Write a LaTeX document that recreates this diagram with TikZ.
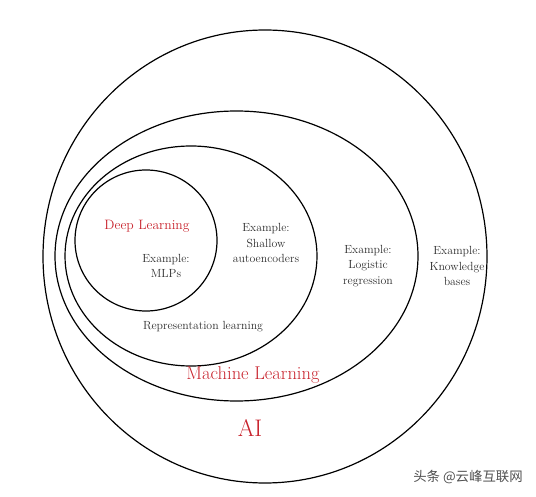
\documentclass[tikz,border=0pt]{standalone}
\usepackage{fontspec}
\newfontfamily\cjkfont{Noto Sans CJK SC}
\definecolor{fieldred}{RGB}{200,35,45}
\definecolor{notegray}{RGB}{45,45,45}
\definecolor{markgray}{RGB}{80,80,80}

\begin{document}
\begin{tikzpicture}[x=1pt,y=-1pt,
    ring/.style={draw=black, line width=1.2pt},
    field/.style={text=fieldred},
    example/.style={text=notegray, align=center, font=\fontsize{11.8}{15.5}\selectfont}]
    \useasboundingbox (0,0) rectangle (536,497);
    % nested sets
    \draw[ring] (265,256.5) ellipse [x radius=222, y radius=226.5];
    \draw[ring] (236.5,256) ellipse [x radius=181.5, y radius=145];
    \draw[ring] (191,256) ellipse [x radius=126, y radius=110];
    \draw[ring] (146,240.5) ellipse [x radius=71, y radius=70.5];
    % labels
    \node[field, font=\fontsize{13.6}{16}\selectfont] (dl) at (147,226) {Deep Learning};
    \node[example] (mlp) at (166,266) {Example:\\MLPs};
    \node[example] (shallow) at (266,243) {Example:\\Shallow\\autoencoders};
    \node[example] (replearn) at (203,327) {Representation learning};
    \node[field, font=\fontsize{18.5}{20}\selectfont] (ml) at (253,375) {Machine Learning};
    \node[example] (logreg) at (368,266) {Example:\\Logistic\\regression};
    \node[example] (kbase) at (457,266) {Example:\\Knowledge\\bases};
    \node[field, font=\fontsize{24}{26}\selectfont] (ai) at (250,428) {AI};
    \node[text=markgray, font=\cjkfont\fontsize{13.4}{15}\selectfont] (mark) at (468,477) {头条 @云峰互联网};
\end{tikzpicture}
\end{document}
